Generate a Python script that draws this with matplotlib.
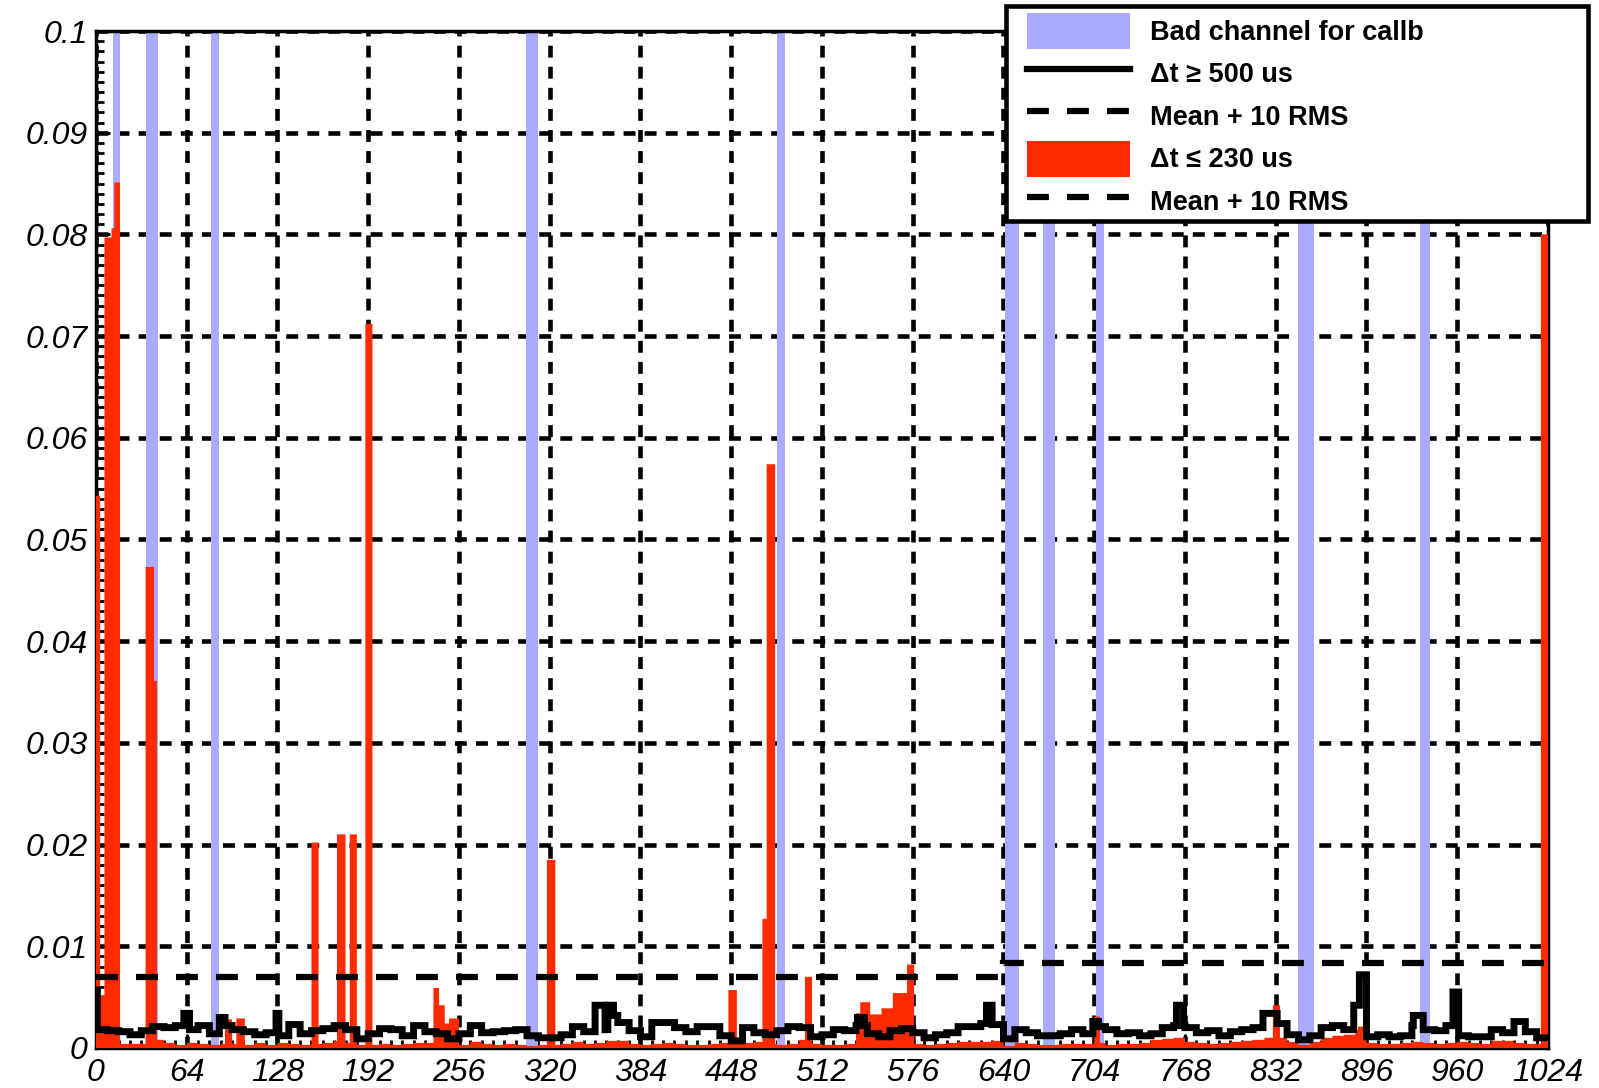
import numpy as np
import matplotlib
matplotlib.use('Agg')
import matplotlib.pyplot as plt
from matplotlib.patches import Patch, Rectangle
from matplotlib.lines import Line2D
from matplotlib.ticker import MultipleLocator

plt.rcParams['font.family'] = ['Liberation Sans', 'DejaVu Sans']

n_channels = 1024
bin_width = 8  # values below in groups of 8 channels

# dt >= 500 us, one value per 8 channels
black_bins = [
    0.0018, 0.0017, 0.0016, 0.0013, 0.0017, 0.0021, 0.0020, 0.0022,
    0.0018, 0.0022, 0.0014, 0.0022, 0.0018, 0.0016, 0.0013, 0.0015,
    0.0012, 0.0023, 0.0014, 0.0017, 0.0019, 0.0022, 0.0018, 0.0009,
    0.0014, 0.0019, 0.0018, 0.0012, 0.0022, 0.0016, 0.0014, 0.0009,
    0.0014, 0.0022, 0.0015, 0.0016, 0.0017, 0.0018, 0.0012, 0.0010,
    0.0010, 0.0013, 0.0021, 0.0016, 0.0040, 0.0035, 0.0025, 0.0017,
    0.0011, 0.0025, 0.0025, 0.0020, 0.0016, 0.0021, 0.0021, 0.0012,
    0.0007, 0.0020, 0.0015, 0.0013, 0.0017, 0.0021, 0.0020, 0.0011,
    0.0013, 0.0018, 0.0017, 0.0022, 0.0014, 0.0011, 0.0017, 0.0019,
    0.0015, 0.0010, 0.0013, 0.0015, 0.0021, 0.0021, 0.0024, 0.0023,
    0.0009, 0.0018, 0.0015, 0.0012, 0.0012, 0.0014, 0.0018, 0.0014,
    0.0021, 0.0018, 0.0014, 0.0015, 0.0012, 0.0014, 0.0020, 0.0022,
    0.0020, 0.0015, 0.0017, 0.0012, 0.0016, 0.0018, 0.0020, 0.0030,
    0.0024, 0.0013, 0.0008, 0.0012, 0.0020, 0.0022, 0.0018, 0.0030,
    0.0011, 0.0013, 0.0011, 0.0012, 0.0022, 0.0018, 0.0017, 0.0022,
    0.0012, 0.0011, 0.0011, 0.0018, 0.0015, 0.0026, 0.0016, 0.0010,
]
# narrow peaks of the black histogram: first channel, last channel + 1, value
black_spk_lo = [0, 62, 87, 127, 352, 359, 361, 365, 537, 628, 703, 762, 823, 887, 891, 929, 957]
black_spk_hi = [1, 66, 91, 129, 359, 361, 365, 368, 542, 632, 707, 767, 833, 891, 896, 936, 961]
black_spk_val = [0.0057, 0.0034, 0.0030, 0.0034, 0.0042, 0.0018, 0.0042, 0.0032, 0.0030,
                 0.0042, 0.0026, 0.0042, 0.0034, 0.0042, 0.0072, 0.0032, 0.0055]

# dt <= 230 us, baseline per 8 channels
red_bins = [
    0.0005, 0.0005, 0.0004, 0.0004, 0.0004, 0.0008, 0.0005, 0.0003,
    0.0005, 0.0004, 0.0003, 0.0004, 0.0004, 0.0003, 0.0005, 0.0003,
    0.0005, 0.0004, 0.0003, 0.0004, 0.0005, 0.0007, 0.0005, 0.0003,
    0.0003, 0.0004, 0.0003, 0.0004, 0.0005, 0.0005, 0.0004, 0.0004,
    0.0003, 0.0006, 0.0004, 0.0003, 0.0004, 0.0003, 0.0002, 0.0003,
    0.0003, 0.0004, 0.0006, 0.0004, 0.0005, 0.0007, 0.0007, 0.0004,
    0.0003, 0.0004, 0.0005, 0.0004, 0.0003, 0.0003, 0.0004, 0.0005,
    0.0004, 0.0005, 0.0006, 0.0004, 0.0003, 0.0004, 0.0008, 0.0004,
    0.0003, 0.0003, 0.0004, 0.0005, 0.0005, 0.0005, 0.0006, 0.0006,
    0.0004, 0.0003, 0.0004, 0.0005, 0.0006, 0.0006, 0.0006, 0.0007,
    0.0002, 0.0005, 0.0004, 0.0003, 0.0003, 0.0004, 0.0004, 0.0004,
    0.0005, 0.0003, 0.0004, 0.0004, 0.0005, 0.0008, 0.0009, 0.0010,
    0.0006, 0.0005, 0.0004, 0.0005, 0.0006, 0.0007, 0.0008, 0.0010,
    0.0010, 0.0006, 0.0003, 0.0006, 0.0010, 0.0012, 0.0013, 0.0018,
    0.0005, 0.0004, 0.0004, 0.0005, 0.0006, 0.0005, 0.0004, 0.0005,
    0.0006, 0.0005, 0.0004, 0.0007, 0.0007, 0.0005, 0.0004, 0.0004,
]
red_spk_lo = [0, 3, 6, 11, 13, 35, 41, 91, 99, 152, 170, 179, 190, 238, 242, 246, 249,
              318, 446, 470, 473, 500, 536, 539, 546, 554, 562, 572, 704, 830, 890, 1019]
red_spk_hi = [3, 6, 11, 13, 17, 41, 43, 96, 105, 157, 176, 184, 195, 242, 246, 249, 256,
              324, 452, 473, 479, 505, 539, 546, 554, 562, 572, 577, 708, 835, 894, 1024]
red_spk_val = [0.0543, 0.0052, 0.0797, 0.0806, 0.0851, 0.0473, 0.0361, 0.0028, 0.0029,
               0.0202, 0.0210, 0.0210, 0.0712, 0.0059, 0.0042, 0.0024, 0.0029,
               0.0185, 0.0057, 0.0127, 0.0574, 0.0070, 0.0034, 0.0045, 0.0033, 0.0039,
               0.0054, 0.0082, 0.0031, 0.0042, 0.0021, 0.0800]

# bad channels for calibration
bad_lo = [12, 35, 81, 303, 480, 641, 668, 705, 848, 934]
bad_hi = [17, 44, 87, 312, 486, 651, 676, 711, 859, 941]

# mean + 10 RMS threshold
thr_edges = [0, 640, 1024]
thr_vals = [0.0070, 0.0084]

xticks = [0, 64, 128, 192, 256, 320, 384, 448, 512, 576, 640, 704, 768, 832, 896, 960, 1024]
yticks = [0, 0.01, 0.02, 0.03, 0.04, 0.05, 0.06, 0.07, 0.08, 0.09, 0.1]
ytick_labels = ['0', '0.01', '0.02', '0.03', '0.04', '0.05', '0.06', '0.07', '0.08', '0.09', '0.1']

legend_labels = ['Bad channel for callb', '\u0394t \u2265 500 us', 'Mean + 10 RMS',
                 '\u0394t \u2264 230 us', 'Mean + 10 RMS']

bad_col = '#aaaaff'
red_col = '#ff2a00'

# full per-channel histograms
black = np.repeat(black_bins, bin_width)
for lo, hi, v in zip(black_spk_lo, black_spk_hi, black_spk_val):
    black[lo:hi] = v
red = np.repeat(red_bins, bin_width)
for lo, hi, v in zip(red_spk_lo, red_spk_hi, red_spk_val):
    red[lo:hi] = v
edges = np.arange(n_channels + 1)

fig = plt.figure(figsize=(15.99, 10.88), dpi=100)
ax = fig.add_axes([0.0600, 0.0368, 0.9081, 0.9347])

ax.bar(bad_lo, yticks[-1], width=np.array(bad_hi) - np.array(bad_lo), align='edge',
       color=bad_col, linewidth=0, zorder=1.5)
ax.stairs(red, edges, fill=True, color=red_col, zorder=3)
ax.stairs(black, edges, baseline=None, color='black', lw=5, zorder=4)
ax.stairs(thr_vals, thr_edges, baseline=None, color='black', lw=4.5,
          linestyle=(0, (3.5, 2.9)), zorder=5)

ax.set_xlim(0, n_channels)
ax.set_ylim(0, 0.1)
ax.set_axisbelow(True)
ax.grid(True, which='major', color='black', lw=3.3, linestyle=(0, (2.6, 2.0)))

ax.set_xticks(xticks, labels=[str(t) for t in xticks], fontstyle='italic')
ax.set_yticks(yticks, labels=ytick_labels, fontstyle='italic')
ax.xaxis.set_minor_locator(MultipleLocator(8))
ax.yaxis.set_minor_locator(MultipleLocator(0.001))
ax.tick_params(which='major', direction='in', length=10, width=2, labelsize=23, pad=6)
ax.tick_params(which='minor', direction='in', length=6, width=2)
ax.tick_params(axis='x', pad=7)
for sp in ax.spines.values():
    sp.set_linewidth(2.5)

# legend box sticks out past the frame, like the original
box = Rectangle((0.6291, 0.7969), 0.3640, 0.1976, transform=fig.transFigure,
                facecolor='white', edgecolor='black', lw=3.3, zorder=4)
fig.add_artist(box)

handles = [
    Patch(facecolor=bad_col, edgecolor='none'),
    Line2D([], [], color='black', lw=4.5),
    Line2D([], [], color='black', lw=4.5, linestyle=(0, (3.5, 2.9))),
    Patch(facecolor=red_col, edgecolor='none'),
    Line2D([], [], color='black', lw=4.5, linestyle=(0, (3.5, 2.9))),
]
fig.legend(handles, legend_labels, loc='upper left', bbox_to_anchor=(1027 / 1599, 1 - 13 / 1088),
           frameon=False, prop=dict(weight='bold', size=19.5), handlelength=3.8, handleheight=1.67,
           handletextpad=0.74, labelspacing=0.24, borderpad=0, borderaxespad=0)

fig.savefig('out.png', dpi=100)
plt.close(fig)
